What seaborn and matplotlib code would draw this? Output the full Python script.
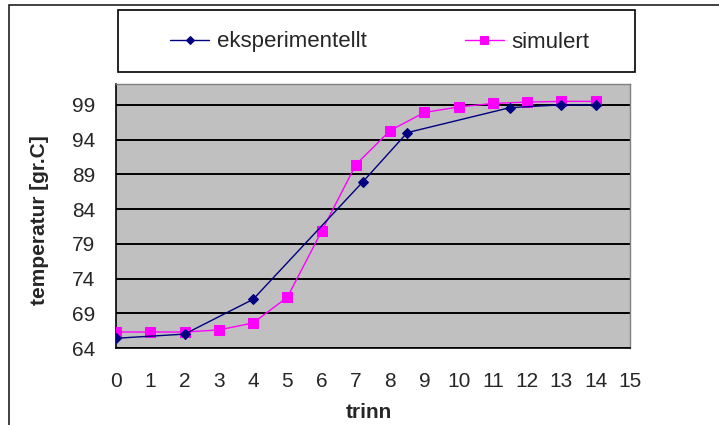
import matplotlib
matplotlib.use("Agg")
import matplotlib.pyplot as plt
from matplotlib.patches import Rectangle
import seaborn as sns
import pandas as pd

# data
exp_x = [0, 2, 4, 7.2, 8.5, 11.5, 13, 14]
exp_y = [65.4, 66.0, 71.0, 87.9, 95.0, 98.6, 99.0, 99.0]
sim_x = [0, 1, 2, 3, 4, 5, 6, 7, 8, 9, 10, 11, 12, 13, 14]
sim_y = [66.3, 66.3, 66.3, 66.6, 67.6, 71.3, 80.8, 90.4, 95.3, 97.9, 98.7, 99.2, 99.4, 99.5, 99.5]
x_ticks = list(range(0, 16))
y_ticks = [64, 69, 74, 79, 84, 89, 94, 99]
labels = ["eksperimentellt", "simulert"]

sns.set_style("white")
plt.rcParams['font.family'] = ['Liberation Sans', 'DejaVu Sans']

W, H = 719, 425
fig = plt.figure(figsize=(W / 100, H / 100), dpi=100)
ax = fig.add_axes([116 / W, 1 - 348 / H, (630 - 116) / W, (348 - 84) / H])

# outer frame
fig.patches.append(Rectangle((9 / W, -0.1), 1.2, 1.1 - 5 / H, transform=fig.transFigure,
                             fill=False, edgecolor="#202020", linewidth=1.2, zorder=0))
# legend box
fig.patches.append(Rectangle((118 / W, 1 - 72 / H), (635 - 118) / W, 62 / H,
                             transform=fig.transFigure, fill=False,
                             edgecolor="black", linewidth=1.2, zorder=1))

df_e = pd.DataFrame({"x": exp_x, "y": exp_y})
df_s = pd.DataFrame({"x": sim_x, "y": sim_y})

sns.lineplot(data=df_e, x="x", y="y", ax=ax, color="#000080", marker="D",
             markersize=5.5, markeredgecolor="#000080", linewidth=1.0,
             label=labels[0], zorder=4)
sns.lineplot(data=df_s, x="x", y="y", ax=ax, color="#FF00FF", marker="s",
             markersize=7, markeredgecolor="#FF00FF", linewidth=1.0,
             label=labels[1], zorder=3)

ax.set_facecolor("#C0C0C0")
ax.set_xlim(0, 15)
ax.set_ylim(64, 102)
ax.set_xticks(x_ticks)
ax.set_yticks(y_ticks)
ax.grid(axis="y", color="black", linewidth=1.4)
ax.grid(axis="x", visible=False)
ax.set_axisbelow(True)

for s in ["top", "right"]:
    ax.spines[s].set_color("#808080")
    ax.spines[s].set_linewidth(1.0)
for s in ["left", "bottom"]:
    ax.spines[s].set_color("black")
    ax.spines[s].set_linewidth(1.2)

ax.tick_params(axis="both", direction="out", length=6, width=1.2, color="black",
               labelsize=15)
ax.tick_params(axis="x", pad=11)
ax.tick_params(axis="y", pad=9)

ax.set_xlabel("trinn", fontsize=15, fontweight="bold", va="center")
ax.set_ylabel("temperatur [gr.C]", fontsize=15, fontweight="bold", va="center")
ax.xaxis.set_label_coords((369 - 116) / 514, (348 - 413) / 264)
ax.yaxis.set_label_coords((40 - 116) / 514, (348 - 220) / 264)

h, l = ax.get_legend_handles_labels()
ax.get_legend().remove()
fig.legend(h, l, loc="center", bbox_to_anchor=(380 / W, 1 - 42 / H), ncol=2,
           frameon=False, fontsize=16, handlelength=1.75, columnspacing=4.4,
           handletextpad=0.36, markerscale=0.75)

fig.savefig("out.png", dpi=100, facecolor="white")
